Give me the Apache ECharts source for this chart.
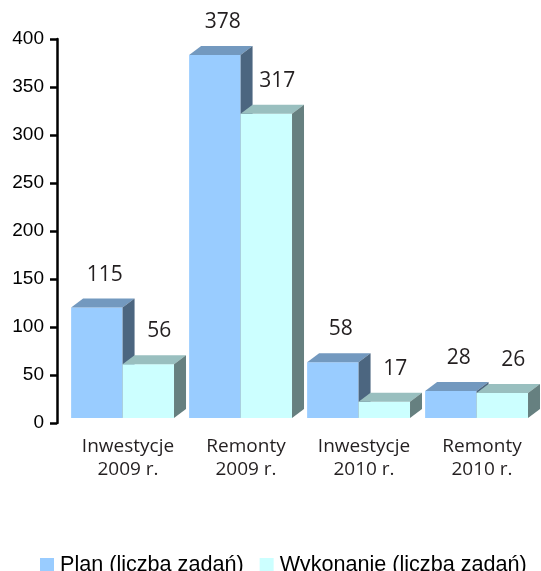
<!DOCTYPE html>
<html>
<head>
<meta charset="utf-8">
<script src="https://cdn.jsdelivr.net/npm/echarts@6/dist/echarts.min.js"></script>
<style>html,body{margin:0;padding:0;background:#fff;}#c{width:541px;height:571px;}</style>
</head>
<body>
<div id="c"></div>
<script>
const categories = ['Inwestycje\n2009 r.', 'Remonty\n2009 r.', 'Inwestycje\n2010 r.', 'Remonty\n2010 r.'];
const planValues = [115, 378, 58, 28];
const wykonanieValues = [56, 317, 17, 26];
const seriesNames = ['Plan (liczba zadań)', 'Wykonanie (liczba zadań)'];
const yTicks = { min: 0, max: 400, interval: 50 };

const palette = [
  { front: '#99CCFF', top: '#7399BF', side: '#4C6680', labelDx: 8 },
  { front: '#CCFFFF', top: '#99BFBF', side: '#668080', labelDx: 11 }
];

function makeRender(k) {
  return function (params, api) {
    const i = api.value(0), v = api.value(1);
    const base = api.coord([i, 0]);
    const top = api.coord([i, v]);
    const bw = api.size([1, 0])[0];
    const w = bw * 0.436;
    const c = base[0] - bw * 0.046;
    const x0 = k === 0 ? c - w : c;
    const x1 = x0 + w;
    const y0 = base[1] - 5;
    const y1 = top[1] - 5;
    const dx = 12, dy = 9;
    const p = palette[k];
    return {
      type: 'group',
      children: [
        { type: 'rect', shape: { x: x0, y: y1, width: w, height: y0 - y1 }, style: { fill: p.front } },
        { type: 'polygon', shape: { points: [[x0, y1], [x1, y1], [x1 + dx, y1 - dy], [x0 + dx, y1 - dy]] }, style: { fill: p.top } },
        { type: 'polygon', shape: { points: [[x1, y1], [x1 + dx, y1 - dy], [x1 + dx, y0 - dy], [x1, y0]] }, style: { fill: p.side } },
        { type: 'text', style: { text: String(v), x: (x0 + x1) / 2 + p.labelDx, y: y1 - dy - 24, textAlign: 'center', textVerticalAlign: 'middle', fill: '#231f20', font: '21px "Open Sans"' } }
      ]
    };
  };
}

const chart = echarts.init(document.getElementById('c'), null, { renderer: 'canvas' });
chart.setOption({
  animation: false,
  backgroundColor: '#fff',
  grid: { left: 69, top: 39, width: 477, height: 384 },
  legend: {
    left: 40, top: 554, padding: 0, itemGap: 16, itemWidth: 14, itemHeight: 14,
    textStyle: { fontFamily: '"Liberation Sans", Arial', fontSize: 21.6, color: '#000', padding: [0, 0, 0, 1] },
    data: [
      { name: seriesNames[0], icon: 'rect', itemStyle: { color: palette[0].front } },
      { name: seriesNames[1], icon: 'rect', itemStyle: { color: palette[1].front } }
    ]
  },
  xAxis: {
    type: 'category', data: categories,
    axisLine: { show: false }, axisTick: { show: false },
    axisLabel: { fontFamily: '"Open Sans"', fontSize: 19, color: '#231f20', lineHeight: 23, margin: 12, interval: 0 }
  },
  yAxis: {
    type: 'value', min: yTicks.min, max: yTicks.max, interval: yTicks.interval, offset: 12,
    axisLine: { show: true, lineStyle: { color: '#000', width: 2.5 } },
    axisTick: { show: true, length: 7, lineStyle: { color: '#000', width: 2.5 } },
    splitLine: { show: false },
    axisLabel: { fontFamily: '"Liberation Sans", Arial', fontSize: 19, color: '#000', margin: 13 }
  },
  series: [
    { name: seriesNames[0], type: 'custom', renderItem: makeRender(0), itemStyle: { color: palette[0].front }, encode: { x: 0, y: 1 }, data: planValues.map((v, i) => [i, v]) },
    { name: seriesNames[1], type: 'custom', renderItem: makeRender(1), itemStyle: { color: palette[1].front }, encode: { x: 0, y: 1 }, data: wykonanieValues.map((v, i) => [i, v]) }
  ]
});
</script>
</body>
</html>
